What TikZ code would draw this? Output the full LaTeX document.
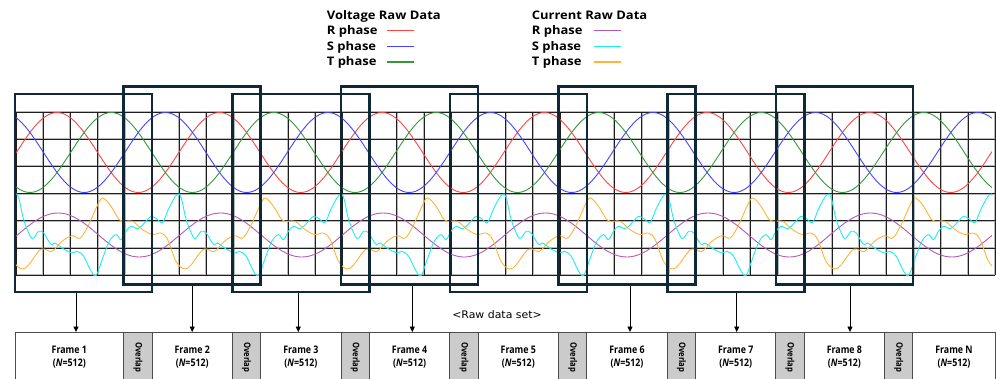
\documentclass[tikz,border=0pt]{standalone}
\usepackage{fontspec}
\setmainfont{Open Sans}
\newfontfamily\lgfont[FakeStretch=1.1]{Open Sans}
\newfontfamily\framefont[FakeStretch=0.85]{Open Sans}
\newfontfamily\capfont[FakeStretch=1.05]{DejaVu Sans}
\usetikzlibrary{arrows.meta}

\definecolor{boxnavy}{HTML}{0E2838}
\definecolor{vRc}{HTML}{FF4444}
\definecolor{vSc}{HTML}{4444FF}
\definecolor{vTc}{HTML}{33993A}
\definecolor{iRc}{HTML}{B45AB4}
\definecolor{iSc}{HTML}{1DEDED}
\definecolor{iTc}{HTML}{FFB339}
\definecolor{ovgray}{HTML}{CBCBCB}

% one period of the distorted S and T phase currents (x, y)
\def\cyanper{14.5/194.5, 18.7/198, 23.7/219.7, 30.3/236.3, 33.7/238, 38.7/231.3,
  43.7/233, 48.7/241.3, 52/244.7, 55.3/243, 62/248, 72/253, 77/251.3, 83.7/256.3,
  90.3/269.7, 96/275.5, 102.7/258, 109.3/241.3, 116/234.7, 121/239.7, 126/231.3,
  131/226.3, 138/228.5, 146/221.3, 151/216.3, 157/219, 162.7/222.3, 169/208}
\def\orangeper{22/269, 28.7/264.7, 38.7/251.3, 44/249, 52/251.3, 62/241.3,
  72/235.7, 80.3/238, 88.7/224.7, 97/206.3, 102.7/198, 111/206.3, 119.3/219.7,
  126/221.3, 132.7/221.3, 142.7/229.7, 152.7/234.7, 161/233, 167.7/239.7, 176/261.3}

\begin{document}
\begin{tikzpicture}[x=1pt,y=-1pt,
  gridhalo/.style={draw=gray!55,line width=1.9pt},
  gridline/.style={draw=black!88,line width=0.85pt},
  wave/.style={line width=0.9pt},
  lgtext/.style={anchor=base west,inner sep=0,font=\lgfont\bfseries\fontsize{11.8}{14}\selectfont},
  lgline/.style={line width=1.6pt},
  fbox/.style={draw=boxnavy,line width=2.6pt,minimum width=137,inner sep=0},
  framebox/.style={draw=black!70,line width=0.9pt,minimum height=49.5,inner sep=0,
    align=center,font=\framefont\bfseries\fontsize{10.4}{12.6}\selectfont},
  ovbox/.style={framebox,fill=ovgray},
  ovtext/.style={rotate=-90,inner sep=0,font=\framefont\bfseries\fontsize{9}{10}\selectfont},
  arr/.style={line width=0.9pt,-{Triangle[length=5.5pt,width=5pt]}}]

\clip (0,0) rectangle (996,379);

% ---------- legend ----------
\node[lgtext] (vtitle) at (326.7,19.3) {Voltage Raw Data};
\node[lgtext] (vr) at (326.7,34.5) {R phase};
\node[lgtext] (vs) at (326.7,50.5) {S phase};
\node[lgtext] (vt) at (326.7,65.8) {T phase};
\coordinate (vrk) at (387.3,30.7);
\coordinate (vsk) at (387.3,46.7);
\coordinate (vtk) at (387.3,62.3);
\draw[lgline,vRc] (vrk) -- ++(27,0);
\draw[lgline,vSc] (vsk) -- ++(27,0);
\draw[lgline,vTc] (vtk) -- ++(27,0);

\node[lgtext] (ititle) at (531.7,19.3) {Current Raw Data};
\node[lgtext] (ir) at (531.7,34.5) {R phase};
\node[lgtext] (is) at (531.7,50.5) {S phase};
\node[lgtext] (it) at (531.7,65.8) {T phase};
\coordinate (irk) at (594,30.7);
\coordinate (isk) at (594,46.7);
\coordinate (itk) at (594,62.3);
\draw[lgline,iRc] (irk) -- ++(27,0);
\draw[lgline,iSc] (isk) -- ++(27,0);
\draw[lgline,iTc] (itk) -- ++(27,0);

% ---------- grid ----------
\foreach \j in {0,...,36} \draw[gridhalo] ({16+27.2*\j},112) -- ({16+27.2*\j},275.2);
\foreach \i in {0,...,6} \draw[gridhalo] (16,{112+27.2*\i}) -- (995.2,{112+27.2*\i});
\foreach \j in {0,...,36} \draw[gridline] ({16+27.2*\j},112) -- ({16+27.2*\j},275.2);
\foreach \i in {0,...,6} \draw[gridline] (16,{112+27.2*\i}) -- (995.2,{112+27.2*\i});

% ---------- waveforms ----------
\def\cyanall{}
\def\orangeall{}
\foreach \k in {-1,...,6}{
  \foreach \px/\py in \cyanper {
    \pgfmathsetmacro\xx{\px+162.5*\k}
    \xdef\cyanall{\cyanall (\xx,\py)}
  }
  \foreach \px/\py in \orangeper {
    \pgfmathsetmacro\xx{\px+162.5*\k}
    \xdef\orangeall{\orangeall (\xx,\py)}
  }
}
\begin{scope}
  \clip (16,100) rectangle (992,290);
  \draw[wave,vRc] plot[domain=16:992,samples=320] (\x,{152.5-40*cos((\x-57)/162.5*360)});
  \draw[wave,vTc] plot[domain=16:992,samples=320] (\x,{152.5-40*cos((\x-111.2)/162.5*360)});
  \draw[wave,vSc] plot[domain=16:992,samples=320] (\x,{152.5-40*cos((\x-165.4)/162.5*360)});
  \draw[wave,iRc] plot[domain=16:992,samples=320] (\x,{235-22*cos((\x-58)/162.5*360)});
  \edef\drawcyan{\noexpand\draw[wave,iSc] plot[smooth,tension=0.6] coordinates {\cyanall};}
  \drawcyan
  \edef\draworange{\noexpand\draw[wave,iTc] plot[smooth,tension=0.6] coordinates {\orangeall};}
  \draworange
\end{scope}

% ---------- overlapping analysis windows ----------
\foreach \i in {1,...,8}{
  \pgfmathsetmacro\cx{15+108.7*(\i-1)+68.5}
  \ifodd\i
    \node[fbox,minimum height=198] (box\i) at (\cx,193) {};
  \else
    \node[fbox,minimum height=197.6] (box\i) at (\cx,185.5) {};
  \fi
}

% ---------- frame strip ----------
\foreach \i in {1,...,9}{
  \pgfmathsetmacro\fl{\i==1 ? 15 : 152+108.7*(\i-2)}
  \pgfmathsetmacro\fr{\i==9 ? 995 : 15+108.7*\i}
  \pgfmathsetmacro\fw{\fr-\fl}
  \pgfmathsetmacro\fc{(\fr+\fl)/2}
  \ifnum\i=9
    \node[framebox,minimum width=\fw] (fr\i) at (\fc,357.25) {Frame N\\(\textit{N}=512)};
  \else
    \node[framebox,minimum width=\fw] (fr\i) at (\fc,357.25) {Frame \i\\(\textit{N}=512)};
  \fi
}
\foreach \i in {1,...,8}{
  \pgfmathsetmacro\ol{15+108.7*\i}
  \pgfmathsetmacro\orr{152+108.7*(\i-1)}
  \pgfmathsetmacro\ow{\orr-\ol}
  \pgfmathsetmacro\oc{(\orr+\ol)/2}
  \node[ovbox,minimum width=\ow] (ov\i) at (\oc,357.25) {};
  \node[ovtext] (ovt\i) at (ov\i) {Overlap};
}

% ---------- window -> frame arrows ----------
\foreach \i/\dx in {1/-7.5, 2/0, 3/-2.6, 4/2.7, 6/3, 7/1, 8/5.6}
  \draw[arr] ([xshift=\dx pt]box\i.south) -- ([xshift=\dx pt]box\i.south |- fr\i.north);

\node[font=\capfont\fontsize{10.4}{12}\selectfont,inner sep=0] (rawcap) at (497,315) {<Raw data set>};

\end{tikzpicture}
\end{document}
